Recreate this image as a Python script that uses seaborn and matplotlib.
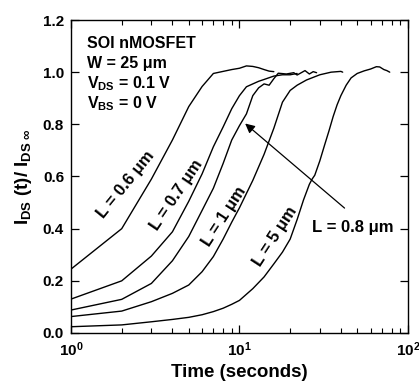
import matplotlib
matplotlib.use("Agg")
import matplotlib.pyplot as plt
import seaborn as sns
import pandas as pd

# time (s) and normalised drain current for each channel length
t_06 = [1, 2, 3, 4, 5, 6, 7, 8, 9, 10, 11, 12, 13, 14, 15, 16]
r_06 = [0.245, 0.40, 0.59, 0.74, 0.868, 0.945, 0.995, 1.003, 1.010, 1.015,
        1.024, 1.022, 1.017, 1.010, 1.004, 1.002]

t_07 = [1, 2, 3, 4, 5, 6, 7, 8, 9, 10, 11, 12, 13, 14, 16, 18, 20, 22]
r_07 = [0.13, 0.20, 0.295, 0.388, 0.505, 0.61, 0.714, 0.79, 0.86, 0.91,
        0.944, 0.955, 0.965, 0.972, 0.985, 0.99, 0.99, 0.995]

t_08 = [1, 2, 3, 4, 5, 6, 7, 8, 9, 10, 11, 12, 13, 14, 15, 16, 17, 19, 21,
        22, 24.5, 26, 27.4, 28.7]
r_08 = [0.088, 0.129, 0.19, 0.277, 0.37, 0.47, 0.555, 0.65, 0.74, 0.795,
        0.84, 0.91, 0.94, 0.955, 0.95, 0.975, 0.996, 0.993, 0.998, 0.989,
        1.006, 0.993, 1.002, 0.998]

t_1 = [1, 2, 3, 4, 5, 6, 7, 8, 9, 10, 11, 12, 14, 16, 18, 20, 22, 25, 30,
       35, 40, 41]
r_1 = [0.063, 0.084, 0.12, 0.152, 0.184, 0.235, 0.293, 0.36, 0.425, 0.48,
       0.535, 0.585, 0.685, 0.785, 0.885, 0.93, 0.95, 0.97, 0.99, 1.0,
       1.003, 1.0]

t_5 = [1, 2, 3, 4, 5, 6, 7, 8, 9, 10, 12, 14, 16, 18, 20, 22, 24, 26, 27,
       28, 30, 32, 34, 36, 38, 40, 43, 46, 50, 55, 60, 65, 68, 72, 75, 78]
r_5 = [0.024, 0.031, 0.043, 0.052, 0.06, 0.07, 0.082, 0.095, 0.11, 0.125,
       0.17, 0.215, 0.265, 0.31, 0.36, 0.435, 0.51, 0.57, 0.59, 0.605, 0.66,
       0.72, 0.775, 0.83, 0.875, 0.91, 0.95, 0.978, 0.995, 1.005, 1.012,
       1.021, 1.02, 1.01, 1.006, 1.0]

curves = {"0.6": (t_06, r_06), "0.7": (t_07, r_07), "0.8": (t_08, r_08),
          "1": (t_1, r_1), "5": (t_5, r_5)}

rows = []
for name, (ts, rs) in curves.items():
    for t, r in zip(ts, rs):
        rows.append({"L": name, "t": t, "r": r})
df = pd.DataFrame(rows)

sns.set_theme(style="ticks")
plt.rcParams['font.family'] = ['Liberation Sans', 'DejaVu Sans']
plt.rcParams['font.weight'] = 'bold'
plt.rcParams['axes.labelweight'] = 'bold'
plt.rcParams['text.color'] = 'black'
plt.rcParams['axes.labelcolor'] = 'black'
plt.rcParams['xtick.color'] = 'black'
plt.rcParams['ytick.color'] = 'black'
plt.rcParams['mathtext.fontset'] = 'custom'
plt.rcParams['mathtext.rm'] = 'Liberation Sans:bold'
plt.rcParams['mathtext.bf'] = 'Liberation Sans:bold'
plt.rcParams['mathtext.it'] = 'Liberation Sans:bold:italic'
plt.rcParams['mathtext.default'] = 'rm'

fig = plt.figure(figsize=(4.19, 3.81), dpi=100)
ax = fig.add_axes([0.1695, 0.126, 0.804, 0.8215])

sns.lineplot(data=df, x="t", y="r", units="L", estimator=None, sort=False,
             color="black", lw=1.0, ax=ax, legend=False)

ax.set_xscale("log")
ax.set_xlim(1, 100)
ax.set_ylim(0, 1.2)
ax.set_yticks([0, 0.2, 0.4, 0.6, 0.8, 1.0, 1.2])
ax.set_yticklabels(["0.0", "0.2", "0.4", "0.6", "0.8", "1.0", "1.2"])
ax.tick_params(which="both", direction="in", top=True, right=True,
               labelsize=11, colors="black")
ax.tick_params(which="major", length=6, width=0.9, pad=5)
ax.tick_params(which="minor", length=3.5, width=0.8)
for s in ax.spines.values():
    s.set_linewidth(1.0)
    s.set_color("black")

ax.set_xlabel("Time (seconds)", fontsize=13.5, labelpad=4)
ax.set_ylabel(r"I$_{\rm DS}$ (t)/ I$_{\rm DS\ ∞}$", fontsize=13.5, labelpad=6)

# info block
info = ["SOI nMOSFET", "W = 25 μm", r"V$_{\rm DS}$ = 0.1 V", r"V$_{\rm BS}$ = 0 V"]
for i, s in enumerate(info):
    ax.text(0.047, 0.911 - i * 0.064, s, transform=ax.transAxes,
            fontsize=11.5, fontweight="bold", va="baseline", ha="left")

# curve labels
lab_kw = dict(fontsize=12, fontweight="bold", ha="center", va="center",
              rotation_mode="anchor")
ax.text(2.12, 0.57, "L = 0.6 μm", rotation=51, **lab_kw)
ax.text(4.25, 0.53, "L = 0.7 μm", rotation=56, **lab_kw)
ax.text(8.15, 0.445, "L = 1 μm", rotation=57, **lab_kw)
ax.text(16.2, 0.37, "L = 5 μm", rotation=57, **lab_kw)
ax.text(47.2, 0.406, "L = 0.8 μm", fontsize=12, fontweight="bold",
        ha="center", va="center")
ax.annotate("", xy=(10.5, 0.81), xytext=(43.3, 0.472),
            arrowprops=dict(arrowstyle="-|>", color="black", lw=0.9,
                            mutation_scale=14))

fig.savefig("out.png", dpi=100)
